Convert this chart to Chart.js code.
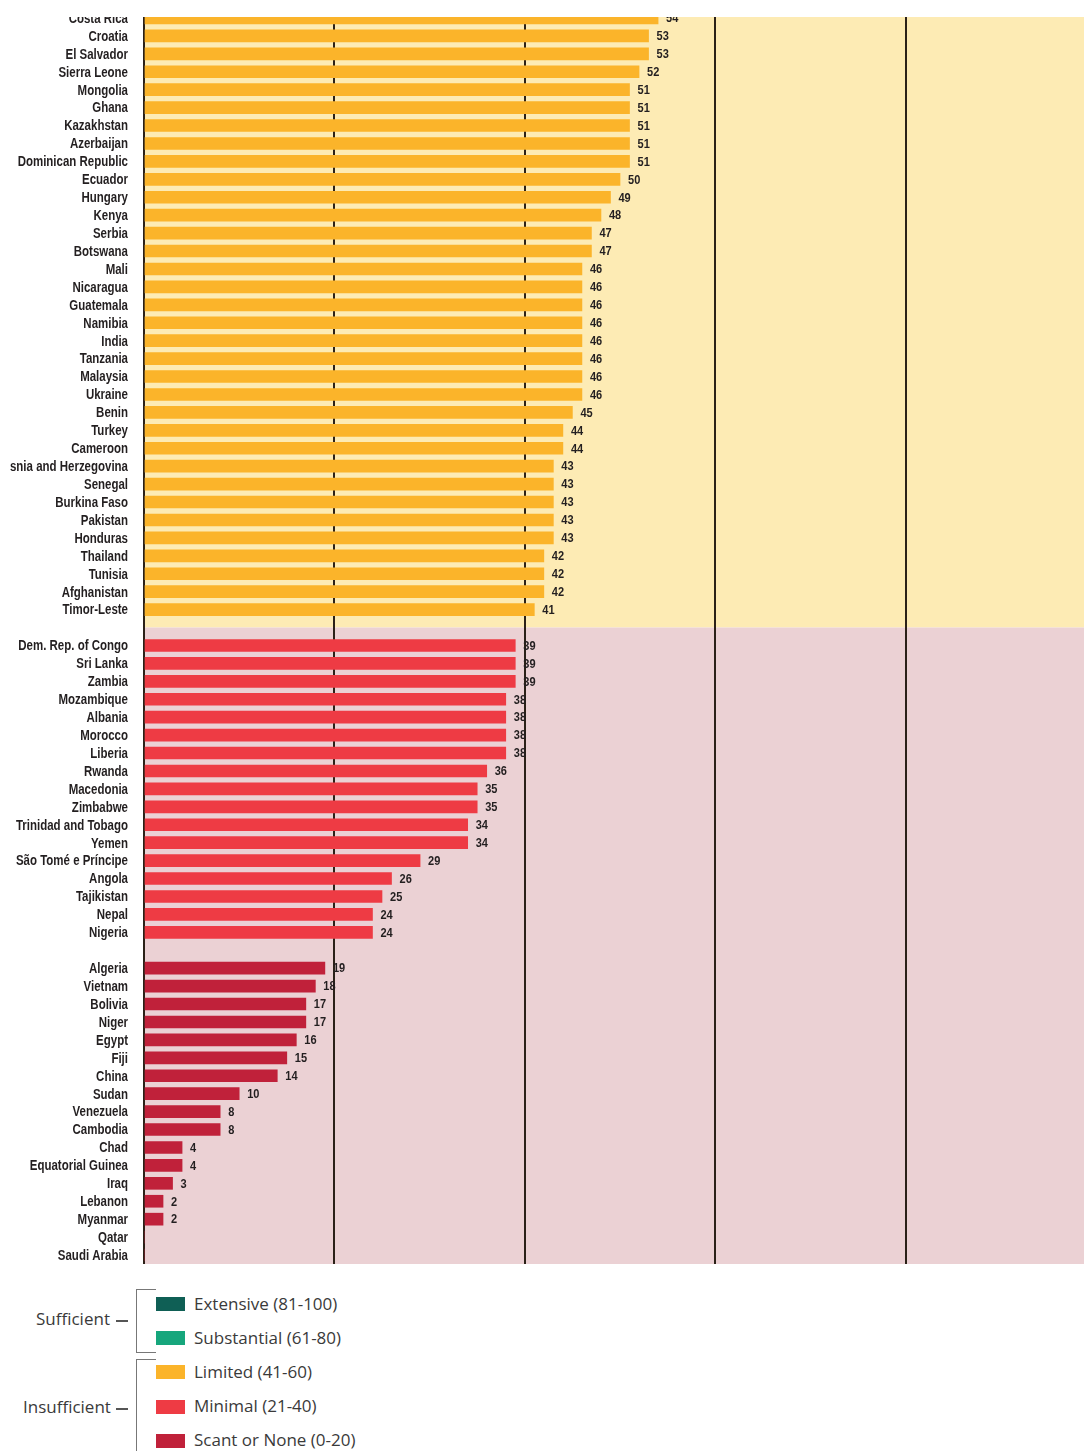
<!DOCTYPE html>
<html><head><meta charset="utf-8">
<script src="https://cdn.jsdelivr.net/npm/chart.js@4"></script>
<style>
html,body{margin:0;padding:0;background:#fff;}
body{width:1084px;height:1451px;overflow:hidden;position:relative;}
#wrap{position:absolute;left:0;top:0;width:1100px;height:1264px;}
#topMask{position:absolute;left:0;top:0;width:1084px;height:17px;background:#fff;}
#leftMask{position:absolute;left:0;top:0;width:10px;height:1270px;background:#fff;}
.lg{position:absolute;font-family:"Open Sans","Noto Sans",sans-serif;font-size:17px;color:#3a3a3a;white-space:nowrap;line-height:20px;}
.sw{position:absolute;width:29px;height:14px;}
.br{position:absolute;border-left:1.5px solid #777;border-top:1.5px solid #777;}
.br2{position:absolute;border-left:1.5px solid #777;border-top:1.5px solid #777;border-bottom:1.5px solid #777;}
.dash{position:absolute;height:1.5px;background:#555;width:12px;}
</style>
</head><body>
<div id="wrap"><canvas id="c" width="1100" height="1264"></canvas></div>
<div id="topMask"></div>
<div id="leftMask"></div>

<div class="lg" style="left:36px;top:1309px;">Sufficient</div>
<div class="dash" style="left:116px;top:1320px;"></div>
<div class="br2" style="left:136px;top:1289px;width:19px;height:62px;"></div>
<div class="lg" style="left:23px;top:1397px;">Insufficient</div>
<div class="dash" style="left:116px;top:1408px;"></div>
<div class="br" style="left:136px;top:1359px;width:19px;height:100px;"></div>

<div class="sw" style="left:156px;top:1297px;background:#0f5f55;"></div>
<div class="lg" style="left:194px;top:1294px;">Extensive (81-100)</div>
<div class="sw" style="left:156px;top:1331px;background:#16a67c;"></div>
<div class="lg" style="left:194px;top:1328px;">Substantial (61-80)</div>
<div class="sw" style="left:156px;top:1365px;background:#fbb42a;"></div>
<div class="lg" style="left:194px;top:1362px;">Limited (41-60)</div>
<div class="sw" style="left:156px;top:1400px;background:#ee3b44;"></div>
<div class="lg" style="left:194px;top:1396px;">Minimal (21-40)</div>
<div class="sw" style="left:156px;top:1434px;background:#c0213a;"></div>
<div class="lg" style="left:194px;top:1430px;">Scant or None (0-20)</div>

<script>
const limitedCountries = ["Costa Rica","Croatia","El Salvador","Sierra Leone","Mongolia","Ghana","Kazakhstan","Azerbaijan","Dominican Republic","Ecuador","Hungary","Kenya","Serbia","Botswana","Mali","Nicaragua","Guatemala","Namibia","India","Tanzania","Malaysia","Ukraine","Benin","Turkey","Cameroon","Bosnia and Herzegovina","Senegal","Burkina Faso","Pakistan","Honduras","Thailand","Tunisia","Afghanistan","Timor-Leste"];
const limitedValues = [54,53,53,52,51,51,51,51,51,50,49,48,47,47,46,46,46,46,46,46,46,46,45,44,44,43,43,43,43,43,42,42,42,41];
const minimalCountries = ["Dem. Rep. of Congo","Sri Lanka","Zambia","Mozambique","Albania","Morocco","Liberia","Rwanda","Macedonia","Zimbabwe","Trinidad and Tobago","Yemen","São Tomé e Príncipe","Angola","Tajikistan","Nepal","Nigeria"];
const minimalValues = [39,39,39,38,38,38,38,36,35,35,34,34,29,26,25,24,24];
const scantCountries = ["Algeria","Vietnam","Bolivia","Niger","Egypt","Fiji","China","Sudan","Venezuela","Cambodia","Chad","Equatorial Guinea","Iraq","Lebanon","Myanmar","Qatar","Saudi Arabia"];
const scantValues = [19,18,17,17,16,15,14,10,8,8,4,4,3,2,2,0,0];
const xTicks = [0,20,40,60,80,100];

const labels = [...limitedCountries, "", ...minimalCountries, "", ...scantCountries];
const nL = limitedCountries.length, nM = minimalCountries.length, nS = scantCountries.length;
const pad = (arr, before, after) => [...Array(before).fill(null), ...arr, ...Array(after).fill(null)];
const limitedData = pad(limitedValues, 0, 1 + nM + 1 + nS);
const minimalData = pad(minimalValues, nL + 1, 1 + nS);
const scantData = pad(scantValues, nL + 1 + nM + 1, 0);

const bgPlugin = {
  id: 'bg',
  beforeDraw(chart) {
    const {ctx, chartArea: a, scales: {y}} = chart;
    const b = y.getPixelForValue(nL);
    ctx.save();
    ctx.fillStyle = '#fdebb4';
    ctx.fillRect(a.left, a.top, a.right - a.left, b - a.top);
    ctx.fillStyle = '#ebd1d4';
    ctx.fillRect(a.left, b, a.right - a.left, a.bottom - b);
    ctx.restore();
  }
};
const labelPlugin = {
  id: 'ylabels',
  afterDraw(chart) {
    const {ctx, chartArea: a, scales: {y}} = chart;
    ctx.save();
    ctx.font = 'bold 14px "Liberation Sans", Arial, sans-serif';
    ctx.fillStyle = '#231f20';
    ctx.textAlign = 'right';
    ctx.textBaseline = 'middle';
    chart.data.labels.forEach((lab, i) => {
      if (!lab) return;
      const yy = y.getPixelForValue(i);
      ctx.save();
      ctx.translate(a.left - 16, yy + 1);
      ctx.scale(0.82, 1);
      ctx.fillText(lab, 0, 0);
      ctx.restore();
    });
    ctx.restore();
  }
};
const valuePlugin = {
  id: 'vals',
  afterDatasetsDraw(chart) {
    const ctx = chart.ctx;
    ctx.save();
    ctx.font = 'bold 12px "Liberation Sans", Arial, sans-serif';
    ctx.fillStyle = '#231f20';
    ctx.textAlign = 'left';
    ctx.textBaseline = 'middle';
    chart.data.datasets.forEach((ds, di) => {
      const meta = chart.getDatasetMeta(di);
      meta.data.forEach((el, i) => {
        const v = ds.data[i];
        if (v === null || v === 0) return;
        ctx.save();
        ctx.translate(el.x + 8, el.y + 1);
        ctx.scale(0.92, 1);
        ctx.fillText(String(v), 0, 0);
        ctx.restore();
      });
    });
    ctx.restore();
  }
};

new Chart(document.getElementById('c'), {
  type: 'bar',
  data: {
    labels,
    datasets: [
      {data: limitedData, backgroundColor: '#fbb42a'},
      {data: minimalData, backgroundColor: '#ee3b44'},
      {data: scantData, backgroundColor: '#c0213a'}
    ]
  },
  options: {
    indexAxis: 'y',
    responsive: false,
    animation: false,
    layout: {padding: {top: 9, right: 4, left: 0, bottom: 0}},
    datasets: {bar: {barThickness: 12, grouped: false, skipNull: true}},
    plugins: {legend: {display: false}, tooltip: {enabled: false}},
    scales: {
      x: {
        min: xTicks[0], max: xTicks[xTicks.length - 1],
        afterBuildTicks(s) { s.ticks = xTicks.map(v => ({value: v})); },
        ticks: {display: false},
        grid: {color: '#2b2118', lineWidth: 2, drawTicks: false},
        border: {display: false},
        afterFit(s) { s.height = 0; }
      },
      y: {
        grid: {display: false, drawTicks: false},
        border: {display: false},
        ticks: {display: false},
        afterFit(s) { s.width = 144; }
      }
    }
  },
  plugins: [bgPlugin, labelPlugin, valuePlugin]
});
</script>
</body></html>
